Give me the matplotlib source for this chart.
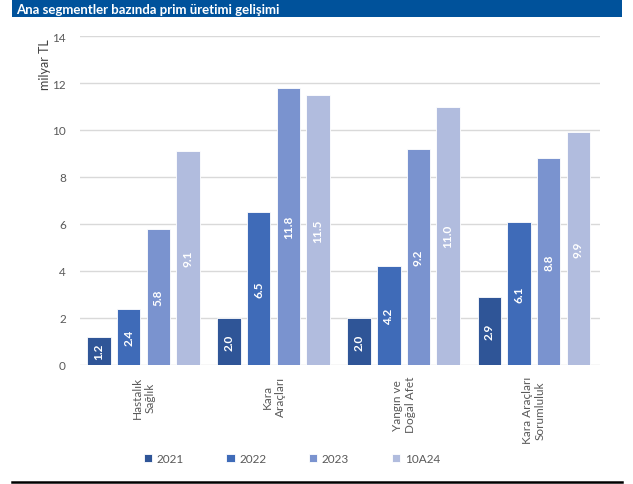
# -*- coding: utf-8 -*-
import numpy as np
import matplotlib
matplotlib.use('Agg')
import matplotlib.pyplot as plt
from matplotlib.patches import Rectangle
from matplotlib.lines import Line2D

plt.rcParams['font.family'] = ['Lato', 'DejaVu Sans']

# segmentler ve yıllara göre prim üretimi (milyar TL)
segmentler = ['Hastalık\nSağlık', 'Kara\nAraçları', 'Yangın ve\nDoğal Afet', 'Kara Araçları\nSorumluluk']
donemler = ['2021', '2022', '2023', '10A24']
prim_2021 = [1.2, 2.0, 2.0, 2.9]
prim_2022 = [2.4, 6.5, 4.2, 6.1]
prim_2023 = [5.8, 11.8, 9.2, 8.8]
prim_10a24 = [9.1, 11.5, 11.0, 9.9]
seriler = [prim_2021, prim_2022, prim_2023, prim_10a24]
renkler = ['#2F5597', '#3F6BB8', '#7A93CF', '#B1BCDE']

fig = plt.figure(figsize=(6.33, 4.85), dpi=100)

# başlık bandı
fig.patches.append(Rectangle((0.019, 0.963), 0.964, 0.037, transform=fig.transFigure,
                             facecolor='#00529B', edgecolor='none', zorder=0))
fig.text(0.025, 0.980, 'Ana segmentler bazında prim üretimi gelişimi', color='white',
         fontsize=9.5, fontweight='bold', va='center', ha='left')
# alt çizgi
fig.add_artist(Line2D([0.019, 0.983], [0.005, 0.005], transform=fig.transFigure,
                      color='black', linewidth=1.8))

ax = fig.add_axes([0.126, 0.2454, 0.822, 0.6783])
x = np.arange(len(segmentler))
genislik = 0.18
aralik = 0.228
for i, (seri, renk) in enumerate(zip(seriler, renkler)):
    konum = x + (i - 1.5) * aralik
    bars = ax.bar(konum, seri, width=genislik, color=renk, edgecolor='white',
                  linewidth=0.6, label=donemler[i], zorder=3)
    for b, v in zip(bars, seri):
        ax.text(b.get_x() + b.get_width() / 2, v / 2, '%.1f' % v, rotation=90,
                ha='center', va='center', color='white', fontsize=8.5,
                fontweight='bold', zorder=4)

ax.set_ylim(0, 14)
ax.set_xlim(-0.49, 3.51)
ax.set_yticks(range(0, 15, 2))
ax.yaxis.grid(True, color='#D9D9D9', linewidth=1, zorder=0)
ax.set_axisbelow(True)
for s in ax.spines.values():
    s.set_visible(False)
ax.tick_params(axis='y', length=0, labelsize=8.5, colors='#595959', pad=10)
ax.tick_params(axis='x', length=0, labelsize=8.5, colors='#595959', pad=8)
ax.set_xticks(x)
ax.set_xticklabels(segmentler, rotation=90, va='top', ha='center', multialignment='center')
ax.set_ylabel('milyar TL', color='#404040', fontsize=9, labelpad=4)
ax.yaxis.set_label_coords(-0.055, 0.915)

handles, labels = ax.get_legend_handles_labels()
fig.legend(handles, labels, loc='center', bbox_to_anchor=(0.461, 0.052), ncol=4,
           frameon=False, fontsize=8.5, labelcolor='#595959', handlelength=0.7,
           handleheight=0.7, handletextpad=0.4, columnspacing=3.6)

fig.savefig('out.png', dpi=100)
